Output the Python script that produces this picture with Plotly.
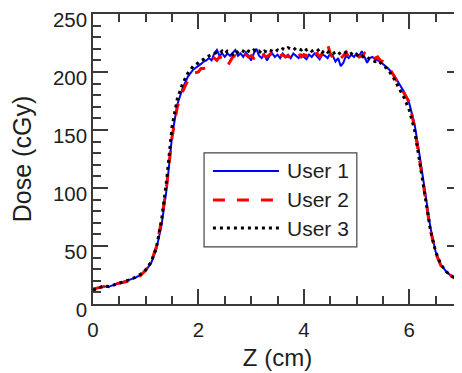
import plotly.graph_objects as go

z_cm = [0.0, 0.1, 0.2, 0.3, 0.4, 0.5, 0.6, 0.7, 0.8, 0.9,
        1.0, 1.1, 1.2, 1.3, 1.4, 1.5, 1.6, 1.7, 1.8, 1.9,
        2.00, 2.05, 2.10, 2.15, 2.20, 2.25, 2.30, 2.35, 2.40, 2.45,
        2.50, 2.55, 2.60, 2.65, 2.70, 2.75, 2.80, 2.85, 2.90, 2.95,
        3.00, 3.05, 3.10, 3.15, 3.20, 3.25, 3.30, 3.35, 3.40, 3.45,
        3.50, 3.55, 3.60, 3.65, 3.70, 3.75, 3.80, 3.85, 3.90, 3.95,
        4.00, 4.05, 4.10, 4.15, 4.20, 4.25, 4.30, 4.35, 4.40, 4.45,
        4.50, 4.55, 4.60, 4.65, 4.70, 4.75, 4.80, 4.85, 4.90, 4.95,
        5.00, 5.05, 5.10, 5.15, 5.20, 5.25, 5.30, 5.35, 5.40, 5.45,
        5.50,
        5.6, 5.7, 5.8, 5.9, 6.0, 6.1, 6.2, 6.3, 6.4, 6.5, 6.6, 6.7, 6.8, 6.9, 7.0]

user1_dose = [13, 14, 15, 15, 16.5, 17.5, 19, 20.5, 22.5, 25,
              29, 35, 47, 68, 100, 145, 172, 186, 196, 202,
              205, 207, 209, 210, 212, 210, 216, 219, 214, 216,
              213, 216, 214, 217, 219, 214, 216, 213, 217, 214,
              210, 216, 220, 214, 212, 215, 210, 214, 216, 213,
              215, 212, 216, 213, 215, 212, 216, 214, 212, 215,
              213, 211, 215, 213, 216, 213, 211, 215, 214, 212,
              216, 214, 209, 212, 205, 208, 214, 212, 215, 213,
              216, 214, 218, 213, 208, 212, 213, 211, 210, 209,
              207,
              203, 198, 191, 183, 173, 155, 127, 95, 66, 45, 34, 28, 24, 21.5, 20]

user2_dose = [13, 14, 15, 16, 16.5, 18, 19, 20, 22, 24.5,
              29, 36, 49, 72, 103, 144, 170, 183, 193, 199,
              200, 203, 203, 204, 207, 209, 212, 210, 213, 212,
              209, 205, 209, 213, 214, 212, 214, 213, 215, 213,
              214, 212, 215, 213, 216, 214, 213, 215, 217, 214,
              216, 214, 215, 213, 214, 212, 215, 214, 216, 213,
              215, 214, 217, 213, 215, 216, 213, 216, 219, 224,
              216, 212, 215, 213, 212, 214, 217, 213, 215, 212,
              215, 213, 214, 216, 212, 213, 211, 212, 213, 210,
              209,
              205, 197, 190, 182, 174, 152, 124, 93, 64, 44, 33, 27.5, 24, 21, 19.5]

user3_dose = [12, 13.5, 15.5, 15, 16.5, 17.5, 19.5, 21, 23, 25.5,
              29.5, 36, 48, 72, 108, 153, 177, 190, 199, 205,
              208, 210, 211, 213, 214, 215, 216, 217, 216, 218,
              216, 218, 217, 215, 218, 217, 219, 218, 216, 218,
              217, 219, 217, 218, 216, 218, 217, 219, 218, 217,
              219, 218, 220, 219, 221, 220, 221, 219, 220, 219,
              221, 219, 220, 218, 219, 218, 220, 217, 219, 217,
              218, 216, 217, 215, 217, 216, 217, 215, 216, 214,
              215, 213, 214, 212, 213, 211, 210, 209, 210, 208,
              206,
              202, 195, 187, 178, 167, 150, 122, 92, 64, 45, 34, 28, 24, 22, 20.5]

series_names = ["User 1", "User 2", "User 3"]
x_ticks = [0, 2, 4, 6]
y_ticks = [0, 50, 100, 150, 200, 250]

FONT = "Liberation Sans, Arial, sans-serif"
AX = "#3a3a3a"
TXT = "#1e1e1e"

styles = [
    dict(color="#0000FF", width=2, dash="solid"),
    dict(color="#FF0000", width=3, dash="12px,12px"),
    dict(color="#000000", width=3, dash="3px,4px"),
]

fig = go.Figure()
for name, ys, st in zip(series_names, [user1_dose, user2_dose, user3_dose], styles):
    fig.add_trace(go.Scatter(x=z_cm, y=ys, mode="lines", name=name,
                             line=st, showlegend=False))

axis_common = dict(
    showline=True, linecolor=AX, linewidth=1.5, mirror="ticks",
    ticks="inside", ticklen=15, tickwidth=1.5, tickcolor=AX,
    showgrid=False, zeroline=False, automargin=False,
    ticklabeloverflow="allow",
    tickfont=dict(family=FONT, size=20.5, color=TXT),
)

fig.update_xaxes(range=[0, 7], tickvals=x_ticks,
                 minor=dict(dtick=0.5, tick0=0, ticks="inside", ticklen=8,
                            tickwidth=1.5, tickcolor=AX, showgrid=False),
                 title=dict(text="Z (cm)", font=dict(family=FONT, size=24, color=TXT),
                            standoff=9),
                 ticklabelstandoff=7,
                 **axis_common)
fig.update_yaxes(range=[0, 250], tickvals=y_ticks,
                 minor=dict(dtick=10, tick0=0, ticks="inside", ticklen=8,
                            tickwidth=1.5, tickcolor=AX, showgrid=False),
                 title=dict(text="Dose (cGy)", font=dict(family=FONT, size=25, color=TXT),
                            standoff=21),
                 ticklabelstandoff=0,
                 ticklabelshift=6,
                 **axis_common)

# manual legend box (paper coordinates)
fig.add_shape(type="rect", xref="paper", yref="paper",
              x0=0.301, x1=0.715, y0=0.197, y1=0.521,
              line=dict(color="#444444", width=1.2), fillcolor="white", layer="above")
ys_leg = [0.459, 0.359, 0.262]
for name, st, yl in zip(series_names, styles, ys_leg):
    fig.add_shape(type="line", xref="paper", yref="paper",
                  x0=0.325, x1=0.504, y0=yl, y1=yl, line=st, layer="above")
    fig.add_annotation(text=name, xref="paper", yref="paper", x=0.52, y=yl,
                       xanchor="left", yanchor="middle", showarrow=False,
                       font=dict(family=FONT, size=21, color=TXT))

# the page adds an 8px body margin, so the figure is sized to fit the window
fig.update_layout(width=454, height=365,
                  margin=dict(l=85, r=0, t=6, b=69),
                  plot_bgcolor="white", paper_bgcolor="white")

fig.write_html("out.html")
